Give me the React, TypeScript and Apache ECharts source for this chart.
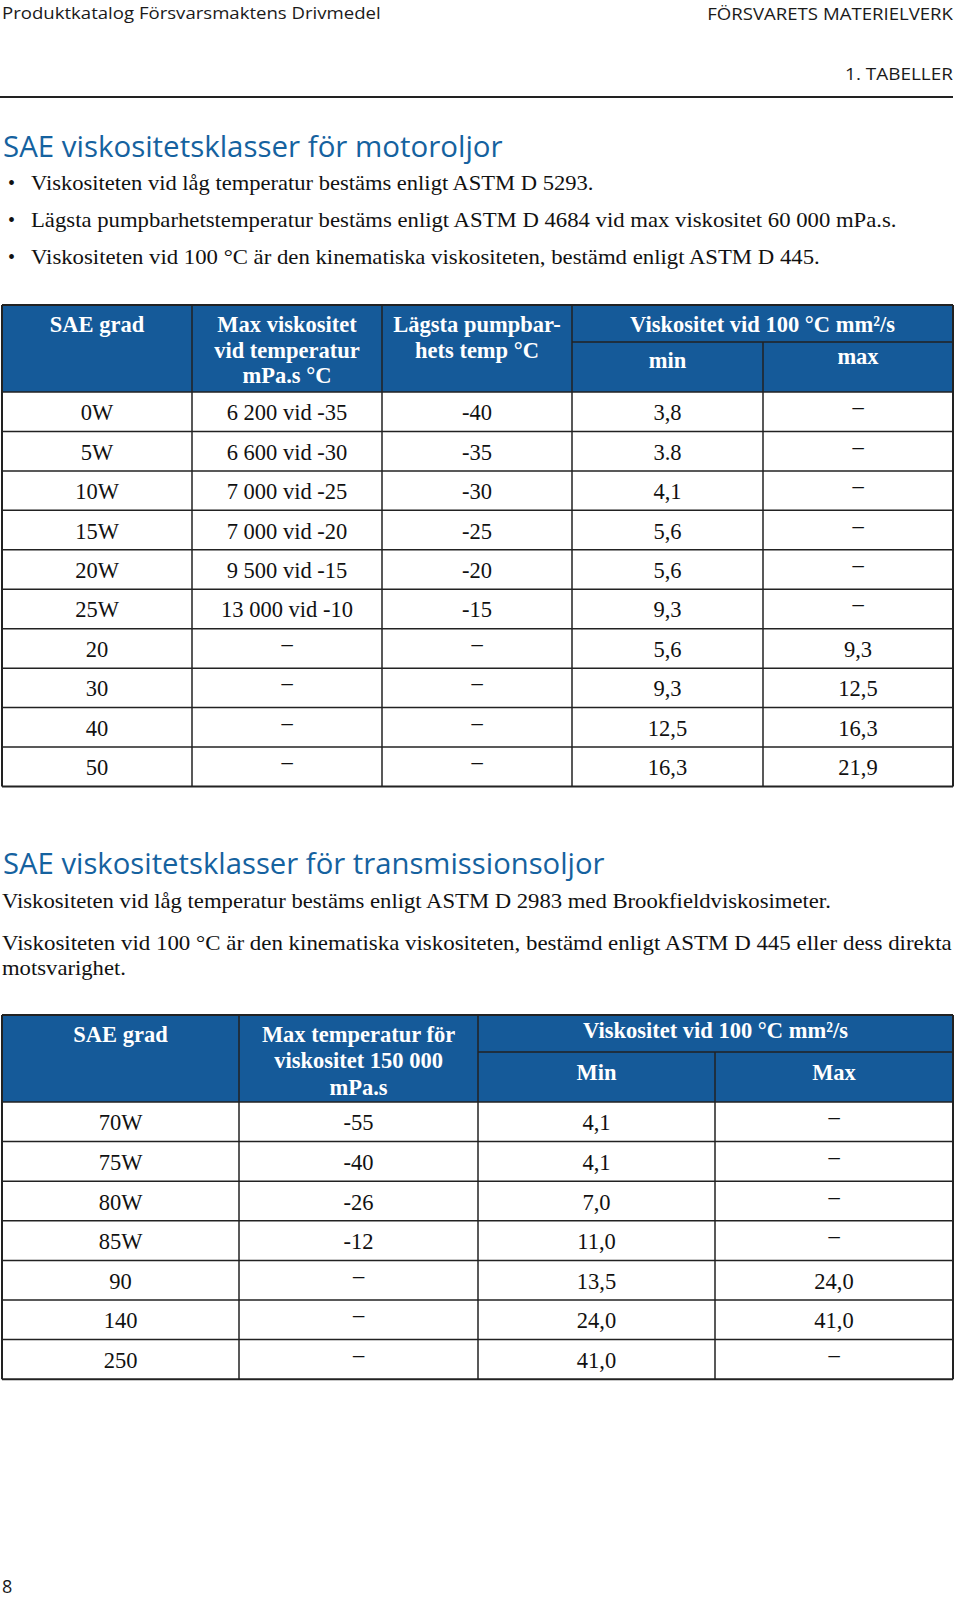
import React, { useEffect, useRef } from "react";
import * as echarts from "echarts";

// ---------- data ----------
const motorGrades = ["0W", "5W", "10W", "15W", "20W", "25W", "20", "30", "40", "50"];
const motorMaxViscAtTemp = ["6 200 vid -35", "6 600 vid -30", "7 000 vid -25", "7 000 vid -20", "9 500 vid -15", "13 000 vid -10", null, null, null, null];
const motorPumpTemp = ["-40", "-35", "-30", "-25", "-20", "-15", null, null, null, null];
const motorVisc100Min = ["3,8", "3.8", "4,1", "5,6", "5,6", "9,3", "5,6", "9,3", "12,5", "16,3"];
const motorVisc100Max = [null, null, null, null, null, null, "9,3", "12,5", "16,3", "21,9"];

const gearGrades = ["70W", "75W", "80W", "85W", "90", "140", "250"];
const gearMaxTemp = ["-55", "-40", "-26", "-12", null, null, null];
const gearVisc100Min = ["4,1", "4,1", "7,0", "11,0", "13,5", "24,0", "41,0"];
const gearVisc100Max = [null, null, null, null, "24,0", "41,0", null];

const motorHeaderLabels = [["SAE grad"], ["Max viskositet", "vid temperatur", "mPa.s °C"], ["Lägsta pumpbar-", "hets temp °C"]];
const motorGroupLabel = "Viskositet vid 100 °C mm²/s";
const motorSubLabels = ["min", "max"];
const gearHeaderLabels = [["SAE grad"], ["Max temperatur för", "viskositet 150 000", "mPa.s"]];
const gearGroupLabel = "Viskositet vid 100 °C mm²/s";
const gearSubLabels = ["Min", "Max"];

const pageHeaderLeft = "Produktkatalog Försvarsmaktens Drivmedel";
const pageHeaderRight = "FÖRSVARETS MATERIELVERK";
const sectionLabel = "1. TABELLER";
const title1 = "SAE viskositetsklasser för motoroljor";
const bullets1 = [
  "Viskositeten vid låg temperatur bestäms enligt ASTM D 5293.",
  "Lägsta pumpbarhetstemperatur bestäms enligt ASTM D 4684 vid max viskositet 60 000 mPa.s.",
  "Viskositeten vid 100 °C är den kinematiska viskositeten, bestämd enligt ASTM D 445.",
];
const title2 = "SAE viskositetsklasser för transmissionsoljor";
const para2a = "Viskositeten vid låg temperatur bestäms enligt ASTM D 2983 med Brookfieldviskosimeter.";
const para2b = ["Viskositeten vid 100 °C är den kinematiska viskositeten, bestämd enligt ASTM D 445 eller dess direkta", "motsvarighet."];
const pageNumber = "8";

// ---------- styling ----------
const SANS = '"Open Sans", "Noto Sans", sans-serif';
const SERIF = '"Liberation Serif", "DejaVu Serif", serif';
const BLUE_FILL = "#155a99";
const BLUE_TEXT = "#15629f";
const LINE = "#222";
const INK = "#111";
const HEAD_SIZE = 22.5;
const BODY_SIZE = 22.5;

let measureCtx: CanvasRenderingContext2D | null = null;
function measure(text: string, font: string): number {
  if (!measureCtx) measureCtx = document.createElement("canvas").getContext("2d");
  measureCtx!.font = font;
  return measureCtx!.measureText(text).width;
}

function txt(text: string, x: number, y: number, o: any = {}) {
  const fontSize = o.fontSize ?? 20;
  const fontFamily = o.fontFamily ?? SERIF;
  const fontWeight = o.fontWeight ?? "normal";
  let scaleX = 1;
  if (o.fitWidth) {
    const w = measure(text, `${fontWeight} ${fontSize}px ${fontFamily}`);
    if (w > 0) scaleX = o.fitWidth / w;
  }
  return {
    type: "text",
    x,
    y,
    scaleX,
    silent: true,
    style: {
      text,
      fill: o.fill ?? INK,
      fontSize,
      fontFamily,
      fontWeight,
      align: o.align ?? "left",
      verticalAlign: "middle",
    },
  };
}

function ln(x1: number, y1: number, x2: number, y2: number, w = 1.5, c = LINE) {
  return { type: "line", silent: true, shape: { x1, y1, x2, y2 }, style: { stroke: c, lineWidth: w } };
}

function buildTable(cfg: {
  cols: number[];
  top: number;
  headBottom: number;
  subY: number;
  rowH: number;
  groupFrom: number;
  headerLabels: string[][];
  headerYs: number[];
  groupLabel: string;
  groupY: number;
  subLabels: string[];
  subYs: number[];
  columns: (string | null)[][];
}) {
  const els: any[] = [];
  const { cols, top, headBottom, subY, rowH, groupFrom } = cfg;
  const left = cols[0];
  const right = cols[cols.length - 1];
  const nRows = cfg.columns[0].length;
  const bottom = headBottom + rowH * nRows;
  els.push({ type: "rect", silent: true, shape: { x: left, y: top, width: right - left, height: headBottom - top }, style: { fill: BLUE_FILL } });
  els.push(ln(left, top, right, top, 2));
  els.push(ln(left, headBottom, right, headBottom, 1.6));
  for (let i = 1; i <= nRows; i++) {
    const y = headBottom + rowH * i;
    els.push(ln(left, y, right, y, i === nRows ? 2 : 1.5));
  }
  els.push(ln(cols[groupFrom], subY, right, subY, 1.5));
  cols.forEach((x, i) => {
    const y0 = i === groupFrom + 1 ? subY : top;
    els.push(ln(x, y0, x, bottom, i === 0 || i === cols.length - 1 ? 2 : 1.5));
  });
  const center = (i: number) => (cols[i] + cols[i + 1]) / 2;
  const head = { fill: "#fff", fontWeight: "bold", align: "center", fontSize: HEAD_SIZE };
  cfg.headerLabels.forEach((lines, ci) => {
    lines.forEach((l, li) => {
      els.push(txt(l, center(ci), cfg.headerYs[li], head));
    });
  });
  els.push(txt(cfg.groupLabel, (cols[groupFrom] + right) / 2, cfg.groupY, head));
  cfg.subLabels.forEach((l, i) => {
    els.push(txt(l, center(groupFrom + i), cfg.subYs[i], head));
  });
  cfg.columns.forEach((colVals, ci) => {
    colVals.forEach((v, ri) => {
      const cy = headBottom + rowH * (ri + 0.5) + 1;
      if (v === null) {
        els.push(txt("–", center(ci), cy - 6, { align: "center", fontSize: BODY_SIZE }));
      } else {
        els.push(txt(v, center(ci), cy, { align: "center", fontSize: BODY_SIZE }));
      }
    });
  });
  return els;
}

function buildGraphic() {
  const g: any[] = [];
  g.push(txt(pageHeaderLeft, 2, 12, { fontFamily: SANS, fontSize: 17, fill: "#1a1a1a", fitWidth: 379 }));
  g.push(txt(pageHeaderRight, 953, 13, { fontFamily: SANS, fontSize: 17, fill: "#1a1a1a", align: "right", fitWidth: 246 }));
  g.push(txt(sectionLabel, 953, 73, { fontFamily: SANS, fontSize: 17, fill: "#1a1a1a", align: "right", fitWidth: 108 }));
  g.push(ln(0, 97, 953, 97, 2, "#222"));

  g.push(txt(title1, 3, 145, { fontFamily: SANS, fontSize: 30, fill: BLUE_TEXT, fitWidth: 500 }));
  const bulletYs = [183, 220, 257];
  const bulletWidths = [564, 867, 791];
  bullets1.forEach((b, i) => {
    g.push(txt("•", 8, bulletYs[i], { fontSize: 20 }));
    g.push(txt(b, 31, bulletYs[i], { fontSize: 21.5, fitWidth: bulletWidths[i] }));
  });

  g.push(
    ...buildTable({
      cols: [2, 192, 382, 572, 763, 953],
      top: 305,
      headBottom: 392,
      subY: 342,
      rowH: 39.45,
      groupFrom: 3,
      headerLabels: motorHeaderLabels,
      headerYs: [324, 350, 375],
      groupLabel: motorGroupLabel,
      groupY: 324,
      subLabels: motorSubLabels,
      subYs: [360, 356],
      columns: [motorGrades, motorMaxViscAtTemp, motorPumpTemp, motorVisc100Min, motorVisc100Max],
    })
  );

  g.push(txt(title2, 3, 862, { fontFamily: SANS, fontSize: 30, fill: BLUE_TEXT, fitWidth: 602 }));
  g.push(txt(para2a, 2, 901, { fontSize: 21.5, fitWidth: 831 }));
  g.push(txt(para2b[0], 2, 943, { fontSize: 21.5, fitWidth: 951 }));
  g.push(txt(para2b[1], 2, 968, { fontSize: 21.5, fitWidth: 124 }));

  g.push(
    ...buildTable({
      cols: [2, 239, 478, 715, 953],
      top: 1015,
      headBottom: 1102,
      subY: 1052,
      rowH: 39.6,
      groupFrom: 2,
      headerLabels: gearHeaderLabels,
      headerYs: [1034, 1060, 1087],
      groupLabel: gearGroupLabel,
      groupY: 1030,
      subLabels: gearSubLabels,
      subYs: [1072, 1072],
      columns: [gearGrades, gearMaxTemp, gearVisc100Min, gearVisc100Max],
    })
  );

  g.push(txt(pageNumber, 2, 1586, { fontFamily: SANS, fontSize: 18, fill: "#1a1a1a" }));
  return g;
}

export default function App() {
  const ref = useRef<HTMLDivElement>(null);
  useEffect(() => {
    document.body.style.margin = "0";
    const chart = echarts.init(ref.current!, null, { renderer: "svg" });
    chart.setOption({
      animation: false,
      backgroundColor: "#ffffff",
      graphic: buildGraphic(),
    });
    return () => chart.dispose();
  }, []);
  return <div ref={ref} style={{ position: "absolute", left: 0, top: 0, width: 960, height: 1600 }} />;
}
